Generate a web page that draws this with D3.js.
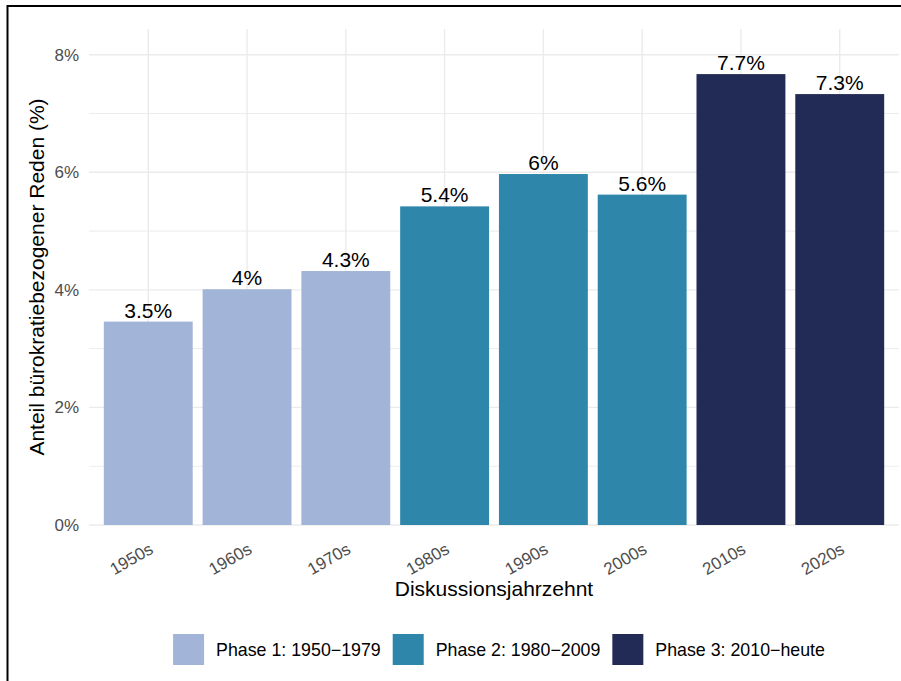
<!DOCTYPE html>
<html><head><meta charset="utf-8">
<script src="https://cdn.jsdelivr.net/npm/d3@7"></script>
<style>
html,body{margin:0;padding:0;background:#fff;}
svg{display:block;font-family:"Liberation Sans",Arial,Helvetica,sans-serif;}
</style></head>
<body><svg id="c" width="901" height="681"></svg>
<script>
const categories = ["1950s","1960s","1970s","1980s","1990s","2000s","2010s","2020s"];
const values = [3.46, 4.01, 4.32, 5.42, 5.97, 5.62, 7.67, 7.33];
const labels = ["3.5%","4%","4.3%","5.4%","6%","5.6%","7.7%","7.3%"];
const phases = ["Phase 1: 1950\u22121979","Phase 1: 1950\u22121979","Phase 1: 1950\u22121979","Phase 2: 1980\u22122009","Phase 2: 1980\u22122009","Phase 2: 1980\u22122009","Phase 3: 2010\u2212heute","Phase 3: 2010\u2212heute"];
const phaseNames = ["Phase 1: 1950\u22121979","Phase 2: 1980\u22122009","Phase 3: 2010\u2212heute"];
const phaseColors = ["#a2b5d8","#2e87ab","#222b56"];
const yTicks = [0,2,4,6,8];
const yMinor = [1,3,5,7];

const svg = d3.select("#c");
const P = {l:89, r:899, t:29, b:525};

const x = d3.scaleBand().domain(categories).range([P.l, P.r]).paddingInner(0.1).paddingOuter(0.15);
const y = d3.scaleLinear().domain([0, d3.max(values)*1.1]).range([P.b, P.t]);
const color = d3.scaleOrdinal().domain(phaseNames).range(phaseColors);

// frame (top and left edges visible)
svg.append("line").attr("x1",7).attr("x2",901).attr("y1",6).attr("y2",6).attr("stroke","#000").attr("stroke-width",2);
svg.append("line").attr("x1",7.5).attr("x2",7.5).attr("y1",5).attr("y2",681).attr("stroke","#000").attr("stroke-width",2);

const g = svg.append("g");
g.selectAll(".ymin").data(yMinor).join("line")
  .attr("x1",P.l).attr("x2",P.r).attr("y1",d=>y(d)).attr("y2",d=>y(d))
  .attr("stroke","#ececec").attr("stroke-width",1);
g.selectAll(".ymaj").data(yTicks).join("line")
  .attr("x1",P.l).attr("x2",P.r).attr("y1",d=>y(d)).attr("y2",d=>y(d))
  .attr("stroke","#ebebeb").attr("stroke-width",1.4);
g.selectAll(".xmaj").data(categories).join("line")
  .attr("x1",d=>x(d)+x.bandwidth()/2).attr("x2",d=>x(d)+x.bandwidth()/2)
  .attr("y1",P.t).attr("y2",P.b)
  .attr("stroke","#ebebeb").attr("stroke-width",1.4);

// bars
g.selectAll(".bar").data(categories).join("rect")
  .attr("x",d=>x(d)).attr("width",x.bandwidth())
  .attr("y",(d,i)=>y(values[i])).attr("height",(d,i)=>y(0)-y(values[i]))
  .attr("fill",(d,i)=>color(phases[i]));

// value labels
g.selectAll(".vl").data(categories).join("text")
  .attr("x",d=>x(d)+x.bandwidth()/2).attr("y",(d,i)=>y(values[i])-4)
  .attr("text-anchor","middle").attr("font-size",21).attr("fill","#000")
  .text((d,i)=>labels[i]);

// y axis
const yAxis = d3.axisLeft(y).tickValues(yTicks).tickFormat(d=>d+"%").tickSize(0).tickPadding(10);
const ya = svg.append("g").attr("transform",`translate(${P.l},0)`).call(yAxis);
ya.select(".domain").remove();
ya.selectAll("text").attr("font-size",17).attr("fill","#4d4d4d").attr("font-family","Liberation Sans, Arial, sans-serif");

// x axis
const xAxis = d3.axisBottom(x).tickSize(0).tickPadding(0);
const xa = svg.append("g").attr("transform",`translate(0,${P.b})`).call(xAxis);
xa.select(".domain").remove();
xa.selectAll("text")
  .attr("font-size",17).attr("fill","#4d4d4d").attr("font-family","Liberation Sans, Arial, sans-serif")
  .attr("text-anchor","end").attr("dy",null).attr("y",0)
  .attr("transform","translate(0,17) rotate(-30)")
  .attr("dominant-baseline","hanging");

// axis titles
svg.append("text").attr("x",(P.l+P.r)/2).attr("y",596).attr("text-anchor","middle")
  .attr("font-size",21).attr("fill","#000").text("Diskussionsjahrzehnt");
svg.append("text").attr("transform",`translate(44,${(P.t+P.b)/2}) rotate(-90)`).attr("text-anchor","middle")
  .attr("font-size",21).attr("fill","#000").text("Anteil bürokratiebezogener Reden (%)");

// legend
const lg = svg.append("g");
const items = lg.selectAll("g").data(phaseNames).join("g");
items.append("rect").attr("x",0).attr("y",634).attr("width",31).attr("height",31).attr("fill",d=>color(d));
items.append("text").attr("x",43).attr("y",656).attr("font-size",17.8).attr("fill","#000").text(d=>d);
let cx = 0;
const offs = [];
items.each(function(d){
  const w = d3.select(this).select("text").node().getComputedTextLength();
  offs.push(cx); cx += 43 + w + 12;
});
const total = cx - 12;
const start = 499 - total/2;
items.attr("transform",(d,i)=>`translate(${start+offs[i]},0)`);
</script></body></html>
